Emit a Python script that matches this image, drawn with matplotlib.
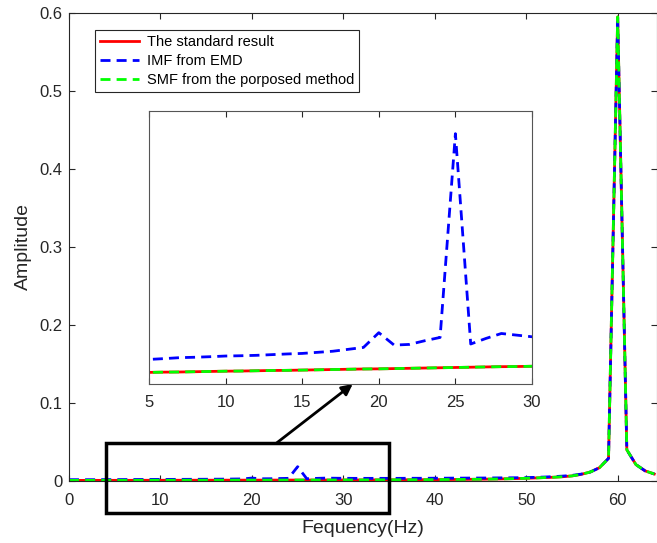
import matplotlib
matplotlib.use("Agg")
import matplotlib.pyplot as plt
from matplotlib.patches import Rectangle
from matplotlib.ticker import FuncFormatter

plt.rcParams['font.family'] = ['Liberation Sans', 'DejaVu Sans']

# frequency bins (Hz)
freq = list(range(0, 65))

# standard result (red)
std_amp = [0.00077, 0.00078, 0.00080, 0.00082, 0.00083, 0.00085, 0.00087, 0.00088, 0.00090, 0.00092,
           0.00094, 0.00095, 0.00097, 0.00099, 0.00100, 0.00102, 0.00104, 0.00106, 0.00108, 0.00110,
           0.00111, 0.00113, 0.00115, 0.00117, 0.00119, 0.00121, 0.00123, 0.00125, 0.00127, 0.00128,
           0.00130, 0.00133, 0.00136, 0.00140, 0.00144, 0.00148, 0.00152, 0.00157, 0.00162, 0.00168,
           0.00175, 0.00183, 0.00192, 0.00202, 0.00214, 0.00228, 0.00244, 0.00263, 0.00286, 0.00314,
           0.00350, 0.00390, 0.00440, 0.00480, 0.00550, 0.00650, 0.00850, 0.01150, 0.01700, 0.02900,
           0.59500, 0.04000, 0.02100, 0.01300, 0.00900]

# IMF from EMD (blue)
imf_amp = [0.00170, 0.00170, 0.00170, 0.00170, 0.00180, 0.00180, 0.00186, 0.00193, 0.00196, 0.00200,
           0.00205, 0.00207, 0.00210, 0.00215, 0.00220, 0.00224, 0.00232, 0.00240, 0.00254, 0.00268,
           0.00376, 0.00285, 0.00290, 0.00317, 0.00341, 0.01834, 0.00293, 0.00334, 0.00370, 0.00358,
           0.00346, 0.00340, 0.00340, 0.00340, 0.00340, 0.00340, 0.00340, 0.00350, 0.00350, 0.00350,
           0.00360, 0.00360, 0.00370, 0.00370, 0.00380, 0.00380, 0.00390, 0.00400, 0.00410, 0.00420,
           0.00440, 0.00470, 0.00510, 0.00560, 0.00630, 0.00720, 0.00880, 0.01150, 0.01700, 0.02900,
           0.59500, 0.04000, 0.02100, 0.01300, 0.00900]

# SMF from the proposed method (green) - overlaps the standard result
smf_amp = list(std_amp)

labels = ['The standard result', 'IMF from EMD', 'SMF from the porposed method']

fig = plt.figure(figsize=(6.57, 5.43), dpi=100)
ax = fig.add_axes([69 / 657, 62 / 543, 588 / 657, 468 / 543])

dash = (3.6, 2.2)
ax.plot(freq, std_amp, color='red', lw=2, label=labels[0])
ax.plot(freq, imf_amp, color='blue', lw=2, dashes=dash, label=labels[1])
ax.plot(freq, smf_amp, color='#00ff00', lw=2, dashes=dash, label=labels[2])

ax.set_xlim(0, 64.3)
ax.set_ylim(0, 0.6)
ax.set_xticks(range(0, 61, 10))
ax.set_yticks([0, 0.1, 0.2, 0.3, 0.4, 0.5, 0.6])
ax.yaxis.set_major_formatter(FuncFormatter(lambda v, p: '0' if v == 0 else f'{v:g}'))
ax.tick_params(direction='in', top=True, right=True, labelsize=12, colors='#262626', length=4)
ax.tick_params(axis='x', pad=8.5)
ax.tick_params(axis='y', pad=4.7)
for s in ax.spines.values():
    s.set_color('#262626')
    s.set_linewidth(0.8)
ax.set_xlabel('Fequency(Hz)', fontsize=14, color='#262626', labelpad=9)
ax.set_ylabel('Amplitude', fontsize=14, color='#262626', labelpad=5)

leg = ax.legend(loc='upper left', bbox_to_anchor=(0.044, 0.964), borderaxespad=0,
                fontsize=10.5, handlelength=2.7, fancybox=False, edgecolor='#262626',
                framealpha=1, labelspacing=0.35, borderpad=0.35, handletextpad=0.5)
leg.get_frame().set_linewidth(0.8)

# zoom rectangle on the main axes
ax.add_patch(Rectangle((4, -0.041), 31, 0.0897, fill=False, ec='black', lw=2.5,
                       clip_on=False, zorder=5))

# inset
ins = fig.add_axes([149 / 657, 159 / 543, 383 / 657, 273 / 543])
ins.plot(freq, std_amp, color='red', lw=2)
ins.plot(freq, imf_amp, color='blue', lw=2, dashes=dash)
ins.plot(freq, smf_amp, color='#00ff00', lw=2, dashes=dash)
ins.set_xlim(5, 30)
ins.set_ylim(0, 0.02)
ins.set_xticks(range(5, 31, 5))
ins.set_yticks([])
ins.tick_params(direction='in', top=True, labelsize=12, colors='#262626', length=4, pad=8)
for s in ins.spines.values():
    s.set_color('#555555')
    s.set_linewidth(0.8)

ax.annotate('', xy=(18.3, 0), xycoords=ins.transData,
            xytext=(22.7, 0.0487), textcoords=ax.transData,
            arrowprops=dict(arrowstyle='-|>', color='black', lw=2, mutation_scale=16,
                            shrinkA=0, shrinkB=0))

fig.savefig('out.png', dpi=100)
